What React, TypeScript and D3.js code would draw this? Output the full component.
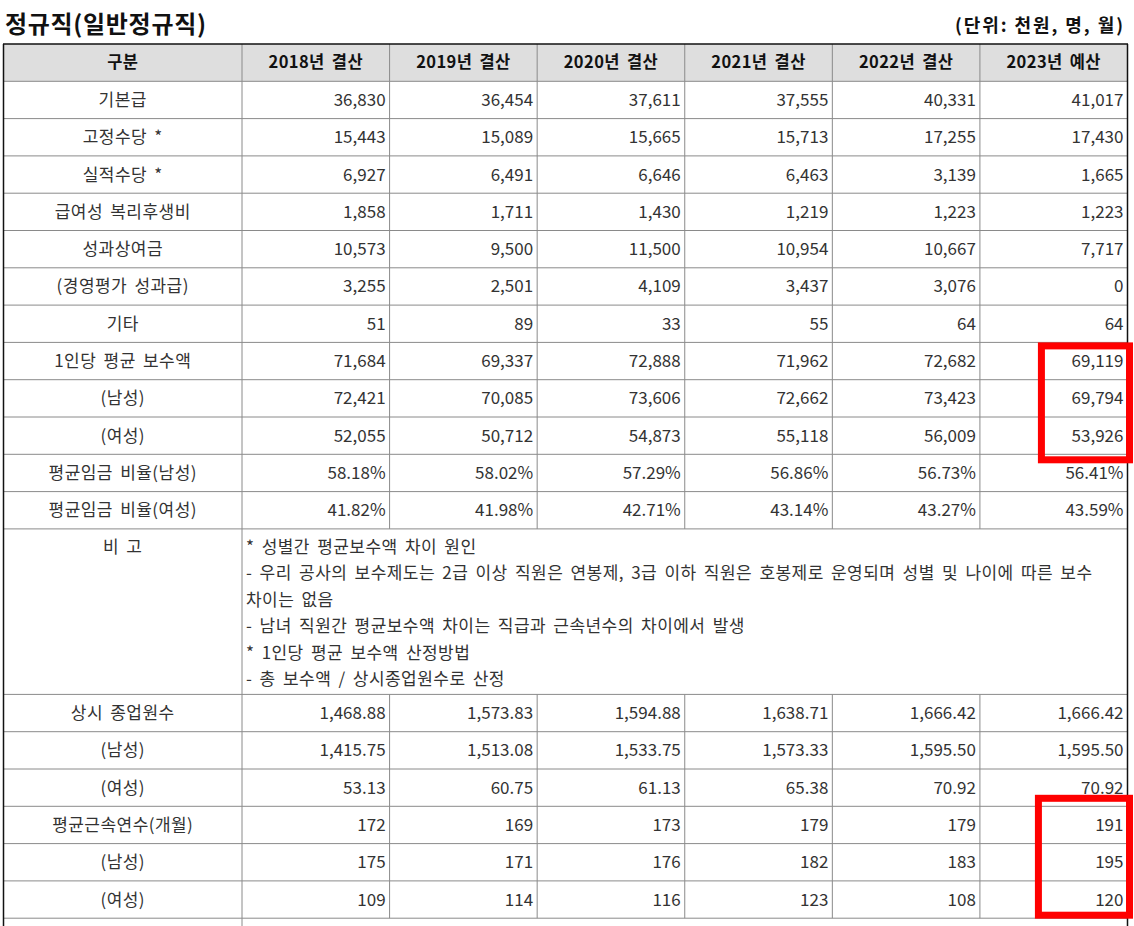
import React from 'react';
import * as d3 from 'd3';

// 표 데이터 (단위: 천원, 명, 월)
const title = '정규직(일반정규직)';
const unitNote = '(단위: 천원, 명, 월)';
const headerLabel = '구분';
const years = ['2018년 결산', '2019년 결산', '2020년 결산', '2021년 결산', '2022년 결산', '2023년 예산'];

const basePay = [36830, 36454, 37611, 37555, 40331, 41017];
const fixedAllowance = [15443, 15089, 15665, 15713, 17255, 17430];
const performanceAllowance = [6927, 6491, 6646, 6463, 3139, 1665];
const welfare = [1858, 1711, 1430, 1219, 1223, 1223];
const bonus = [10573, 9500, 11500, 10954, 10667, 7717];
const evalBonus = [3255, 2501, 4109, 3437, 3076, 0];
const others = [51, 89, 33, 55, 64, 64];
const avgPay = [71684, 69337, 72888, 71962, 72682, 69119];
const avgPayMale = [72421, 70085, 73606, 72662, 73423, 69794];
const avgPayFemale = [52055, 50712, 54873, 55118, 56009, 53926];
const ratioMale = [58.18, 58.02, 57.29, 56.86, 56.73, 56.41];
const ratioFemale = [41.82, 41.98, 42.71, 43.14, 43.27, 43.59];

const remarkLabel = '비 고';
const remarkLines = [
  '* 성별간 평균보수액 차이 원인',
  '- 우리 공사의 보수제도는 2급 이상 직원은 연봉제, 3급 이하 직원은 호봉제로 운영되며 성별 및 나이에 따른 보수',
  '차이는 없음',
  '- 남녀 직원간 평균보수액 차이는 직급과 근속년수의 차이에서 발생',
  '* 1인당 평균 보수액 산정방법',
  '- 총 보수액 / 상시종업원수로 산정',
];

const employees = [1468.88, 1573.83, 1594.88, 1638.71, 1666.42, 1666.42];
const employeesMale = [1415.75, 1513.08, 1533.75, 1573.33, 1595.5, 1595.5];
const employeesFemale = [53.13, 60.75, 61.13, 65.38, 70.92, 70.92];
const tenure = [172, 169, 173, 179, 179, 191];
const tenureMale = [175, 171, 176, 182, 183, 195];
const tenureFemale = [109, 114, 116, 123, 108, 120];

const int = d3.format(',');
const dec = d3.format(',.2f');
const pct = (v: number) => d3.format('.2f')(v) + '%';

type Row = { label: string; values?: number[]; fmt?: (v: number) => string; remark?: boolean; blank?: boolean };

const rows: Row[] = [
  { label: '기본급', values: basePay, fmt: int },
  { label: '고정수당 *', values: fixedAllowance, fmt: int },
  { label: '실적수당 *', values: performanceAllowance, fmt: int },
  { label: '급여성 복리후생비', values: welfare, fmt: int },
  { label: '성과상여금', values: bonus, fmt: int },
  { label: '(경영평가 성과급)', values: evalBonus, fmt: int },
  { label: '기타', values: others, fmt: int },
  { label: '1인당 평균 보수액', values: avgPay, fmt: int },
  { label: '(남성)', values: avgPayMale, fmt: int },
  { label: '(여성)', values: avgPayFemale, fmt: int },
  { label: '평균임금 비율(남성)', values: ratioMale, fmt: pct },
  { label: '평균임금 비율(여성)', values: ratioFemale, fmt: pct },
  { label: remarkLabel, remark: true },
  { label: '상시 종업원수', values: employees, fmt: dec },
  { label: '(남성)', values: employeesMale, fmt: dec },
  { label: '(여성)', values: employeesFemale, fmt: dec },
  { label: '평균근속연수(개월)', values: tenure, fmt: int },
  { label: '(남성)', values: tenureMale, fmt: int },
  { label: '(여성)', values: tenureFemale, fmt: int },
  { label: '', blank: true },
];

const W = 1134;
const H = 926;
const FONT = '"Noto Sans CJK KR", "Noto Sans", sans-serif';

export default function App() {
  const left = 3.5;
  const right = 1127.5;
  const labelRight = 242;
  const top = 44;
  const rowH = 37.3;
  const remarkH = 165.5;
  const lineH = 26.5;

  const x = d3.scaleBand<string>().domain(years).range([labelRight, right]);

  const heights = [rowH, ...rows.map((r) => (r.remark ? remarkH : r.blank ? 60 : rowH))];
  const ys = [top, ...Array.from(d3.cumsum(heights)).map((h) => top + h)];
  const rowY = (i: number) => ys[i + 1];
  const rowHt = (i: number) => heights[i + 1];

  const grid = '#8a8a8a';
  const textColor = '#333';
  const koStyle = { letterSpacing: '0.45px', wordSpacing: '3px' };

  const rowIndex = (values: number[]) => rows.findIndex((r) => r.values === values);
  const lastCol = years[years.length - 1];

  const box1Top = rowY(rowIndex(avgPay));
  const box1Bottom = rowY(rowIndex(avgPayFemale)) + rowHt(rowIndex(avgPayFemale));
  const box2Top = rowY(rowIndex(tenure));
  const box2Bottom = rowY(rowIndex(tenureFemale)) + rowHt(rowIndex(tenureFemale));
  const bx = x(lastCol)!;

  return (
    <svg width={W} height={H} style={{ position: 'absolute', left: 0, top: 0, background: '#fff' }} fontFamily={FONT}>
      <text x={5} y={33} fontSize={24} fontWeight={700} fill="#111" textLength={201} lengthAdjust="spacing">{title}</text>
      <text x={955} y={32} fontSize={18} fontWeight={700} fill="#111" textLength={168} lengthAdjust="spacing">{unitNote}</text>

      {/* header */}
      <rect x={left} y={top} width={right - left} height={heights[0]} fill="#dedede" />
      <line x1={labelRight} x2={labelRight} y1={top} y2={top + heights[0]} stroke={grid} />
      {years.map((yr) => (
        <g key={yr}>
          <line x1={x(yr)! + x.bandwidth()} x2={x(yr)! + x.bandwidth()} y1={top} y2={top + heights[0]} stroke={grid} />
          <text x={x(yr)! + x.bandwidth() / 2} y={top + heights[0] / 2} dy="0.35em" textAnchor="middle" fontSize={16.5} fontWeight={700} fill="#111" style={{ letterSpacing: '0.4px', wordSpacing: '3px' }}>{yr}</text>
        </g>
      ))}
      <text x={(left + labelRight) / 2} y={top + heights[0] / 2} dy="0.35em" textAnchor="middle" fontSize={16.5} fontWeight={700} fill="#111" style={{ letterSpacing: '0.4px' }}>{headerLabel}</text>

      {rows.map((r, i) => {
        const y0 = rowY(i);
        const h = rowHt(i);
        return (
          <g key={i}>
            <line x1={left} x2={right} y1={y0} y2={y0} stroke={grid} />
            <line x1={labelRight} x2={labelRight} y1={y0} y2={y0 + h} stroke={grid} />
            {!r.blank && (
              <text x={(left + labelRight) / 2} y={r.remark ? y0 + 18 : y0 + h / 2} dy="0.35em" textAnchor="middle" fontSize={17} fill={textColor} style={koStyle}>{r.label}</text>
            )}
            {r.values && years.map((yr, j) => (
              <g key={yr}>
                {j < years.length - 1 && (
                  <line x1={x(yr)! + x.bandwidth()} x2={x(yr)! + x.bandwidth()} y1={y0} y2={y0 + h} stroke={grid} />
                )}
                <text x={x(yr)! + x.bandwidth() - 4} y={y0 + h / 2} dy="0.35em" textAnchor="end" fontSize={17} fill={textColor}>{r.fmt!(r.values![j])}</text>
              </g>
            ))}
            {r.remark && remarkLines.map((t, k) => (
              <text key={k} x={labelRight + 4} y={y0 + 18 + k * lineH} dy="0.35em" fontSize={17} fill={textColor} style={koStyle}>{t}</text>
            ))}
          </g>
        );
      })}

      {/* outer border */}
      <line x1={left - 0.5} x2={right + 0.5} y1={top} y2={top} stroke="#111" strokeWidth={1.5} />
      <line x1={left} x2={left} y1={top} y2={H + 10} stroke="#111" strokeWidth={1.5} />
      <line x1={right} x2={right} y1={top} y2={H + 10} stroke="#111" strokeWidth={1.5} />

      {/* red highlight boxes */}
      <rect x={bx + 61.5} y={box1Top + 3.5} width={right - bx - 61.5 + 2} height={box1Bottom - box1Top + 2} fill="none" stroke="#ff0000" strokeWidth={7} />
      <rect x={bx + 58.5} y={box2Top - 8} width={right - bx - 58.5 + 2} height={box2Bottom - box2Top + 5} fill="none" stroke="#ff0000" strokeWidth={7} />
    </svg>
  );
}
